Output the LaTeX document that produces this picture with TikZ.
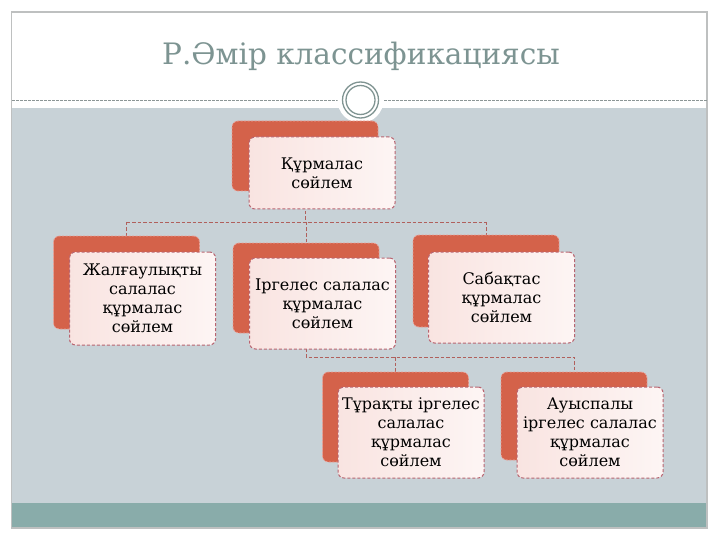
\documentclass[tikz,border=0pt]{standalone}
\usepackage{fontspec}
\setmainfont{DejaVu Serif}
\definecolor{graybg}{RGB}{200,210,215}
\definecolor{tealc}{RGB}{137,172,170}
\definecolor{framec}{RGB}{190,192,192}
\definecolor{dashc}{RGB}{140,150,150}
\definecolor{ringc}{RGB}{128,148,146}
\definecolor{titlec}{RGB}{125,148,146}
\definecolor{redc}{RGB}{212,98,74}
\definecolor{redborder}{RGB}{236,160,150}
\definecolor{pinkc}{RGB}{249,228,225}
\definecolor{pinkr}{RGB}{253,245,244}
\definecolor{frontborder}{RGB}{184,100,112}
\definecolor{connc}{RGB}{176,96,92}
\pgfdeclarelayer{back}
\pgfdeclarelayer{conn}
\pgfsetlayers{back,conn,main}
\begin{document}
\begin{tikzpicture}[x=1pt,y=-1pt,
  backbox/.style={rounded corners=6pt, fill=redc, draw=redborder, dash pattern=on 2pt off 1.5pt, line width=0.8pt, minimum width=146pt, inner sep=0pt},
  frontbox/.style={rounded corners=6pt, draw=frontborder, dash pattern=on 3pt off 2pt, line width=1pt, left color=pinkc, right color=pinkr, minimum width=146pt, inner sep=0pt, align=center, font=\fontsize{16}{19}\selectfont, text=black},
  conn/.style={draw=connc, line width=0.9pt, dash pattern=on 3.5pt off 2pt}]
\useasboundingbox (0,0) rectangle (720,540);
\begin{pgfonlayer}{back}
\fill[white] (0,0) rectangle (720,540);
\fill[graybg] (12,108) rectangle (707,503);
\fill[tealc] (12,503) rectangle (707,528);
\draw[framec, line width=1.3pt] (11.5,12) rectangle (707,528);
\draw[dashc, line width=0.8pt, dash pattern=on 2.5pt off 1.5pt] (12,100) -- (707,100);
\fill[white] (360.5,100) circle (23pt);
\node[circle, draw=ringc, line width=1.3pt, minimum size=36pt, inner sep=0pt] (ringout) at (360.5,100) {};
\node[circle, draw=ringc, line width=1.3pt, minimum size=29pt, inner sep=0pt] (ringin) at (360.5,100) {};
\node[font=\fontsize{29.5}{32}\selectfont, text=titlec, anchor=base, inner sep=0pt] (title) at (361,64.5) {Р.Әмір классификациясы};
\end{pgfonlayer}

\node[backbox, minimum height=70pt] (b0) at (305,156) {};
\node[frontbox, minimum height=72pt] (f0) at (322,173) {Құрмалас\\сөйлем};

\node[backbox, minimum height=93pt] (b1) at (126.5,282.5) {};
\node[frontbox, minimum height=93pt] (f1) at (142.5,298.5) {Жалғаулықты\\салалас\\құрмалас\\сөйлем};

\node[backbox, minimum height=90pt] (b2) at (306,288) {};
\node[frontbox, minimum height=91pt] (f2) at (322.5,303.5) {Іргелес салалас\\құрмалас\\сөйлем};

\node[backbox, minimum height=92pt] (b3) at (486,281) {};
\node[frontbox, minimum height=91pt] (f3) at (501.5,297.5) {Сабақтас\\құрмалас\\сөйлем};

\node[backbox, minimum height=90pt] (b4) at (395.5,417) {};
\node[frontbox, minimum height=91pt] (f4) at (411,432.5) {Тұрақты іргелес\\салалас\\құрмалас\\сөйлем};

\node[backbox, minimum height=88pt] (b5) at (574,416) {};
\node[frontbox, minimum height=91pt] (f5) at (590,432.5) {Ауыспалы\\іргелес салалас\\құрмалас\\сөйлем};

\begin{pgfonlayer}{conn}
\coordinate (h0) at (0,222);
\coordinate (h1) at (0,357);
\draw[conn] (b0.center) -- (b0.center |- h0);
\draw[conn] (b1.north |- h0) -- (b3.north |- h0);
\draw[conn] (b1.north |- h0) -- (b1.north);
\draw[conn] (b2.north |- h0) -- (b2.north);
\draw[conn] (b3.north |- h0) -- (b3.north);
\draw[conn] (b2.center) -- (b2.center |- h1) -- (b5.north |- h1) -- (b5.north);
\draw[conn] (b4.north |- h1) -- (b4.north);
\end{pgfonlayer}
\end{tikzpicture}
\end{document}
